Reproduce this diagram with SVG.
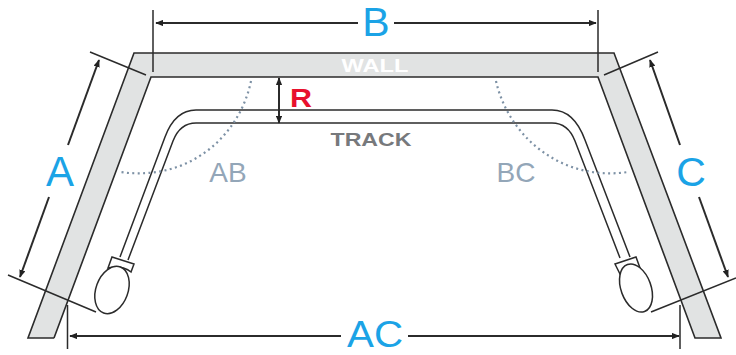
<svg xmlns="http://www.w3.org/2000/svg" width="736" height="355" viewBox="0 0 736 355">
<defs>
<marker id="ah" viewBox="0 0 10 8" refX="9" refY="4" markerWidth="8" markerHeight="6.500" markerUnits="userSpaceOnUse" orient="auto"><path d="M0 0L10 4L0 8Z" fill="#222"/></marker>
</defs>
<style>
.e{fill:none;stroke:#2b2b2b;stroke-width:1.6}
.d{fill:none;stroke:#2b2b2b;stroke-width:2;marker-end:url(#ah)}
.t{fill:none;stroke:#2b2b2b;stroke-width:1.5}
.o{fill:none;stroke:#7d91a5;stroke-width:2.2;stroke-dasharray:2 3.4}
.k{font-family:"Liberation Sans",Arial,sans-serif;text-anchor:middle;fill:#1ba3e6}
.g{font-family:"Liberation Sans",Arial,sans-serif;text-anchor:middle;fill:#93a6b8;font-size:28px}
</style>
<g id="wall">
<path d="M134 53H614L721 338H695L598 77H151L54 338H28Z" fill="#e1e3e3"/>
<path class="e" d="M54 338H28L134 53H614L721 338H695L598 77H151L54 338"/>
<text x="375" y="72" text-anchor="middle" font-family="'Liberation Sans',Arial,sans-serif" font-weight="700" font-size="19" fill="#fff" textLength="67" lengthAdjust="spacingAndGlyphs">WALL</text>
</g>
<g id="track">
<path class="t" d="M120 257L165 137Q175 110 196 110H552Q574 110 585 140L630 257"/>
<path class="t" d="M128 260L173 141Q180 123 196 123H552Q568 123 575 141L620 258"/>
<text x="371" y="146" text-anchor="middle" font-family="'Liberation Sans',Arial,sans-serif" font-weight="700" font-size="19" fill="#77797c" textLength="81" lengthAdjust="spacingAndGlyphs">TRACK</text>
</g>
<g id="head-left">
<path class="t" d="M112 257L134 264L131 272Q122 265 108 268Z"/>
<ellipse cx="112" cy="290" rx="16" ry="24.500" transform="rotate(20 112 290)" fill="#fff" stroke="#2b2b2b" stroke-width="1.500"/>
</g>
<g id="head-right">
<path class="t" d="M615 264L636 257L640 268Q630 264 620 274Z"/>
<ellipse cx="636" cy="288" rx="15" ry="25" transform="rotate(-20 636 288)" fill="#fff" stroke="#2b2b2b" stroke-width="1.500"/>
</g>
<g id="arcs">
<path class="o" d="M251 81C240 135 190 182 120 172"/>
<path class="o" d="M496 81C508 135 560 182 628 172"/>
</g>
<g id="connectors">
<path class="t" d="M153 10V72M598 10V72M90 52L146 75M604 75L658 52M8 275L96 312M651 312L736 278M67.500 305V349M680 305V349"/>
<path class="d" d="M358 23H156"/><path class="d" d="M394 23H596"/>
<path class="d" d="M68 145L99 60"/><path class="d" d="M49 197L20 277"/>
<path class="d" d="M680 145L650 60"/><path class="d" d="M699 197L728 277"/>
<path class="d" d="M341 336H70"/><path class="d" d="M408 336H679"/>
<path class="d" d="M279 100V78"/><path class="d" d="M279 100V123"/>
</g>
<g id="labels">
<text class="k" x="376" y="36" font-size="41">B</text>
<text class="k" x="60" y="186" font-size="42">A</text>
<text class="k" x="691" y="186" font-size="41">C</text>
<text class="k" x="375" y="347" font-size="37" textLength="56" lengthAdjust="spacingAndGlyphs">AC</text>
<text class="g" x="228" y="182">AB</text>
<text class="g" x="516" y="182">BC</text>
<text x="301" y="107" text-anchor="middle" font-family="'Liberation Sans',Arial,sans-serif" font-weight="700" font-size="26" fill="#e8112d" textLength="22" lengthAdjust="spacingAndGlyphs">R</text>
</g>
</svg>
